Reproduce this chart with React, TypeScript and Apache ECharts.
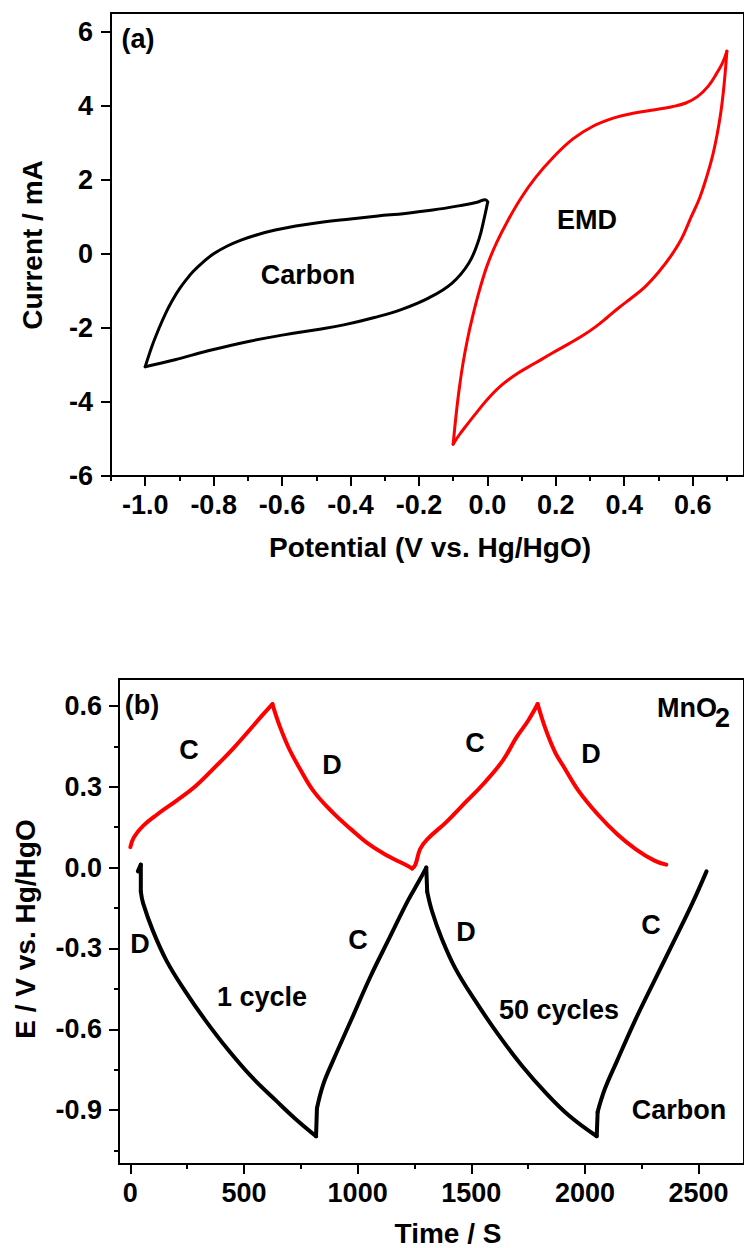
import React, { useEffect, useRef } from "react";
import * as echarts from "echarts";

// ---------- (a) cyclic voltammetry ----------
const carbonPotential = [-1.0, -0.98, -0.96, -0.94, -0.92, -0.9, -0.88, -0.86, -0.83, -0.8, -0.76, -0.72, -0.67, -0.62, -0.56, -0.48, -0.4, -0.32, -0.24, -0.16, -0.08, -0.03, -0.006, 0.001, -0.008, -0.025, -0.054, -0.103, -0.171, -0.25, -0.33, -0.42, -0.5, -0.595, -0.705, -0.816, -0.913, -1.0];
const carbonCurrent = [-3.05, -2.49, -2.02, -1.6, -1.25, -0.95, -0.7, -0.48, -0.22, 0.0, 0.21, 0.37, 0.52, 0.64, 0.75, 0.86, 0.94, 1.02, 1.09, 1.18, 1.3, 1.39, 1.46, 1.4, 1.01, 0.38, -0.25, -0.79, -1.19, -1.5, -1.72, -1.92, -2.05, -2.19, -2.38, -2.62, -2.86, -3.05];
const carbonCorners = [23];

const emdPotential = [-0.1, -0.092, -0.083, -0.072, -0.058, -0.042, -0.022, 0.0, 0.027, 0.06, 0.098, 0.14, 0.19, 0.25, 0.31, 0.37, 0.43, 0.49, 0.54, 0.58, 0.615, 0.645, 0.67, 0.688, 0.7, 0.696, 0.69, 0.682, 0.671, 0.657, 0.64, 0.62, 0.595, 0.567, 0.535, 0.5, 0.46, 0.42, 0.385, 0.35, 0.315, 0.28, 0.24, 0.19, 0.14, 0.09, 0.045, 0.005, -0.03, -0.06, -0.083, -0.1];
const emdCurrent = [-5.14, -4.4, -3.7, -3.0, -2.3, -1.65, -0.95, -0.3, 0.3, 0.9, 1.5, 2.05, 2.58, 3.1, 3.45, 3.67, 3.8, 3.89, 3.97, 4.07, 4.25, 4.52, 4.87, 5.17, 5.47, 5.0, 4.4, 3.8, 3.2, 2.6, 2.05, 1.5, 0.98, 0.4, -0.08, -0.5, -0.9, -1.2, -1.45, -1.72, -1.98, -2.2, -2.42, -2.68, -2.95, -3.22, -3.52, -3.88, -4.27, -4.62, -4.9, -5.14];
const emdCorners = [24];

const potentialTicks = [-1.0, -0.8, -0.6, -0.4, -0.2, 0.0, 0.2, 0.4, 0.6];
const potentialMinorTicks = [-1.1, -0.9, -0.7, -0.5, -0.3, -0.1, 0.1, 0.3, 0.5, 0.7];
const currentTicks = [-6, -4, -2, 0, 2, 4, 6];

// ---------- (b) charge / discharge ----------
const mno2Time = [0, 15, 56, 119, 202, 285, 369, 452, 535, 580, 625, 656, 698, 744, 806, 890, 973, 1056, 1140, 1202, 1240, 1254, 1275, 1306, 1390, 1473, 1556, 1640, 1700, 1750, 1792, 1827, 1869, 1910, 1973, 2056, 2140, 2223, 2306, 2358];
const mno2Voltage = [0.076, 0.112, 0.155, 0.198, 0.248, 0.301, 0.37, 0.442, 0.521, 0.565, 0.607, 0.528, 0.442, 0.37, 0.284, 0.205, 0.141, 0.083, 0.04, 0.014, -0.003, 0.011, 0.069, 0.105, 0.169, 0.241, 0.313, 0.399, 0.485, 0.545, 0.607, 0.514, 0.428, 0.37, 0.284, 0.198, 0.126, 0.069, 0.026, 0.011];
const mno2Corners = [10, 20, 30];

const carbonTime = [33, 46, 46, 56, 98, 160, 244, 327, 431, 535, 640, 723, 817, 821, 848, 890, 973, 1056, 1140, 1223, 1270, 1302, 1306, 1327, 1369, 1431, 1515, 1619, 1723, 1827, 1931, 2052, 2056, 2088, 2140, 2223, 2306, 2390, 2473, 2535];
const carbonVoltage = [-0.014, 0.011, -0.089, -0.132, -0.232, -0.347, -0.462, -0.563, -0.677, -0.778, -0.864, -0.93, -0.997, -0.893, -0.806, -0.72, -0.563, -0.405, -0.261, -0.12, -0.05, 0.0, -0.089, -0.161, -0.261, -0.376, -0.491, -0.62, -0.735, -0.835, -0.921, -0.997, -0.907, -0.821, -0.72, -0.563, -0.419, -0.276, -0.132, -0.014];
const carbonGcdCorners = [1, 2, 12, 13, 21, 22, 31, 32];

const timeTicks = [0, 500, 1000, 1500, 2000, 2500];
const timeMinorTicks = [250, 750, 1250, 1750, 2250];
const voltageTicks = [-0.9, -0.6, -0.3, 0.0, 0.3, 0.6];
const voltageMinorTicks = [-1.05, -0.75, -0.45, -0.15, 0.15, 0.45];

const FONT = "'Liberation Sans', Arial, Helvetica, sans-serif";

function splitAt(xs: number[], ys: number[], corners: number[]) {
  const segs: number[][][] = [];
  let start = 0;
  for (const b of [...corners, xs.length - 1]) {
    const seg: number[][] = [];
    for (let i = start; i <= b; i++) seg.push([xs[i], ys[i]]);
    segs.push(seg);
    start = b;
  }
  return segs;
}

function lineSeries(segs: number[][][], color: string, width: number, axis: number) {
  return segs.map((seg) => ({
    type: "line",
    xAxisIndex: axis,
    yAxisIndex: axis,
    data: seg,
    showSymbol: false,
    smooth: 0.4,
    silent: true,
    lineStyle: { color, width, cap: "round", join: "round" },
  }));
}

function majorAxis(gridIndex: number, min: number, max: number, ticks: number[], fmt: (v: number) => string, margin: number) {
  return {
    type: "value",
    gridIndex,
    min,
    max,
    axisLine: { show: true, onZero: false, lineStyle: { color: "#000", width: 2 } },
    axisTick: { show: true, inside: false, length: 10, customValues: ticks, lineStyle: { color: "#000", width: 2 } },
    axisLabel: {
      show: true,
      customValues: ticks,
      formatter: fmt,
      margin,
      color: "#000",
      fontSize: 27,
      fontWeight: "bold",
      fontFamily: FONT,
    },
    splitLine: { show: false },
  };
}

function minorAxis(gridIndex: number, min: number, max: number, ticks: number[]) {
  return {
    type: "value",
    gridIndex,
    min,
    max,
    axisLine: { show: false, onZero: false },
    axisTick: { show: ticks.length > 0, inside: false, length: 5, customValues: ticks, lineStyle: { color: "#000", width: 2 } },
    axisLabel: { show: false },
    splitLine: { show: false },
  };
}

function label(text: string, x: number, y: number, size = 27, align = "center", rotation = 0) {
  return {
    type: "text",
    x,
    y,
    rotation,
    silent: true,
    style: {
      text,
      x: 0,
      y: 0,
      fill: "#000",
      fontSize: size,
      fontWeight: "bold",
      fontFamily: FONT,
      align,
      verticalAlign: "middle",
      textAlign: align,
      textVerticalAlign: "middle",
    },
  };
}

export default function App() {
  const ref = useRef<HTMLDivElement>(null);

  useEffect(() => {
    if (!ref.current) return;
    const chart = echarts.init(ref.current, null, { renderer: "svg" });
    const fmt1 = (v: number) => v.toFixed(1);
    const fmt0 = (v: number) => String(v);

    const series = [
      ...lineSeries(splitAt(carbonPotential, carbonCurrent, carbonCorners), "#000000", 3, 0),
      ...lineSeries(splitAt(emdPotential, emdCurrent, emdCorners), "#ff0000", 3, 0),
      ...lineSeries(splitAt(mno2Time, mno2Voltage, mno2Corners), "#ff0000", 4, 2),
      ...lineSeries(splitAt(carbonTime, carbonVoltage, carbonGcdCorners), "#000000", 4, 2),
    ];

    chart.setOption({
      animation: false,
      backgroundColor: "#ffffff",
      grid: [
        { left: 111, top: 13, right: -2.3, bottom: 772, show: true, borderColor: "#000", borderWidth: 2, containLabel: false },
        { left: 119, top: 679, right: -1.6, bottom: 84, show: true, borderColor: "#000", borderWidth: 2, containLabel: false },
      ],
      xAxis: [
        { ...majorAxis(0, -1.1, 0.75, potentialTicks, fmt1, 15), position: "bottom" },
        { ...minorAxis(0, -1.1, 0.75, potentialMinorTicks), position: "bottom" },
        { ...majorAxis(1, -50, 2700, timeTicks, fmt0, 15), position: "bottom" },
        { ...minorAxis(1, -50, 2700, timeMinorTicks), position: "bottom" },
      ],
      yAxis: [
        { ...majorAxis(0, -6, 6.5, currentTicks, fmt0, 18), position: "left" },
        { ...minorAxis(0, -6, 6.5, []), position: "left" },
        { ...majorAxis(1, -1.1, 0.7, voltageTicks, fmt1, 17), position: "left" },
        { ...minorAxis(1, -1.1, 0.7, voltageMinorTicks), position: "left" },
      ],
      series,
      graphic: [
        label("(a)", 138, 39),
        label("Carbon", 308, 275),
        label("EMD", 587, 220),
        label("Potential (V vs. Hg/HgO)", 430, 547, 28),
        label("Current / mA", 32, 245, 28, "center", Math.PI / 2),
        label("(b)", 142, 705),
        label("MnO", 657, 708, 27, "left"),
        label("2", 715, 718, 27, "left"),
        label("C", 189, 750),
        label("D", 332, 765),
        label("C", 475, 743),
        label("D", 591, 754),
        label("D", 140, 944),
        label("C", 358, 940),
        label("1 cycle", 262, 997),
        label("D", 466, 932),
        label("50 cycles", 559, 1010),
        label("C", 651, 925),
        label("Carbon", 679, 1110),
        label("Time / S", 448, 1233, 28),
        label("E / V vs. Hg/HgO", 25, 929, 28, "center", Math.PI / 2),
      ],
    });

    return () => chart.dispose();
  }, []);

  return (
    <div
      ref={ref}
      style={{ position: "absolute", left: 0, top: 0, width: 744, height: 1248, overflow: "hidden" }}
    />
  );
}
